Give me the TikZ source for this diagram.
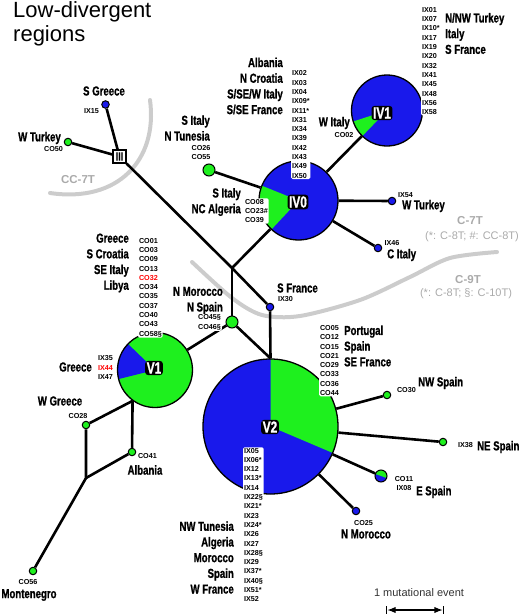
\documentclass[tikz,border=0pt]{standalone}
\usepackage{fontspec}
\setmainfont{Liberation Sans}
\newfontfamily\narrowfont[FakeStretch=0.74, BoldFeatures={FakeBold=1}]{Liberation Sans}
\usepackage{tikz}
\usetikzlibrary{arrows.meta,positioning}
\usepackage{xcolor}
\definecolor{hapblue}{RGB}{25,25,235}
\definecolor{hapgreen}{RGB}{30,240,30}
\definecolor{arcgray}{RGB}{204,204,204}
\definecolor{txtgray}{RGB}{170,170,170}
\newcommand{\regfont}{\narrowfont\bfseries\fontsize{13}{15.7}\selectfont}
\newcommand{\codefont}{\bfseries\fontsize{7.2}{9.3}\selectfont}

\begin{document}
\begin{tikzpicture}[
  x=1pt, y=-1pt,
  every node/.style={inner sep=0pt},
  region/.style={font=\regfont},
  codes/.style={font=\codefont, fill=white, rounded corners=1.5pt, inner sep=0.8pt},
  hap/.style={circle, draw, line width=1.3pt, inner sep=0pt, fill=hapblue},
  pie/.style n args={3}{path picture={\fill[#3] (path picture bounding box.center) -- ++(#1:90) arc[start angle=#1, end angle=#2, radius=90] -- cycle;}},
  haplab/.style={fill=black, text=white, rounded corners=3pt, inner sep=1.6pt, font=\narrowfont\bfseries\fontsize{16}{16}\selectfont},
  dot/.style={circle, draw, line width=1pt, minimum size=7.5pt, inner sep=0pt},
  bigdot/.style={dot, minimum size=12pt},
  conn/.style={line width=2.6pt},
  grayarc/.style={line width=4pt, arcgray, line cap=round},
  mut/.style={font=\bfseries\fontsize{11.5}{13.5}\selectfont, text=txtgray},
  mutnote/.style={font=\fontsize{11}{13}\selectfont, text=txtgray},
  >=Latex
]
\useasboundingbox (0,0) rectangle (520,614);

% Mutation arcs
\draw[grayarc] (150,100) .. controls (158,160) and (118,203) .. (50,193);
\draw[grayarc] plot[smooth] coordinates {(192,262) (232,298) (262,315) (300,316) (360,300) (410,277) (450,258) (497,252)};

% Haplotypes as pies
\node[hap, minimum size=79pt, pie={-227}{-158}{hapgreen}] (IV0) at (298.5,200.5) {};
\node[hap, minimum size=71pt, pie={-226}{-198}{hapgreen}] (IV1) at (387,110.5) {};
\node[hap, fill=hapgreen, minimum size=75pt, pie={-194}{-136}{hapblue}] (V1) at (155,370) {};
\node[hap, minimum size=135pt, pie={-90}{23}{hapgreen}] (V2) at (270.5,426.5) {};

% Single haplotypes
\node[dot, fill=hapblue] (ix15) at (105.5,104.5) {};
\node[dot, fill=hapgreen] (co50) at (68,142) {};
\node[bigdot, fill=hapgreen] (co26) at (209,170) {};
\node[dot, fill=hapblue] (ix54) at (392,201) {};
\node[dot, fill=hapblue] (ix46) at (378,248) {};
\node[dot, fill=hapblue] (ix30) at (270,307) {};
\node[bigdot, fill=hapgreen] (co45) at (232,322) {};
\node[dot, fill=hapgreen] (co28) at (86,425) {};
\node[dot, fill=hapgreen] (co41) at (132,452) {};
\node[dot, fill=hapgreen] (co56) at (33,571) {};
\node[dot, fill=hapgreen] (co30) at (387,395) {};
\node[dot, fill=hapgreen] (ix38) at (443,442) {};
\node[bigdot, fill=hapblue, pie={-160}{20}{hapgreen}] (co11) at (381,476) {};
\node[dot, fill=hapblue] (co25) at (356,511) {};
\node[draw, line width=1.2pt, fill=white, minimum size=13pt, inner sep=0.5pt, font=\narrowfont\bfseries\fontsize{12}{12}\selectfont] (III) at (119.5,156.5) {III};

\coordinate (j1) at (232,268);
\coordinate (j2) at (86,478);

% Connections
\draw[conn] (ix15) -- (III);
\draw[conn] (co50) -- (III);
\draw[conn] (III) -- (j1) -- (ix30);
\draw[conn] (j1) -- (IV0);
\draw[conn] (j1) -- (co45);
\draw[conn] (co26) -- (IV0);
\draw[conn] (IV0) -- (IV1);
\draw[conn] (IV0) -- (ix54);
\draw[conn] (IV0) -- (ix46);
\draw[conn] (co45) -- (V2.north);
\draw[conn] (ix30) -- (V2.north);
\draw[conn] (V1) -- (co45);
\draw[conn] (V1.234) -- (co28) -- (j2) -- (co56);
\draw[conn] (V1.234) -- (co41) -- (j2);
\draw[conn] (V2) -- (co30);
\draw[conn] (V2) -- (ix38);
\draw[conn] (V2) -- (co11);
\draw[conn] (V2) -- (co25);

% Haplotype names
\node[haplab] (lIV0) at (298,202) {IV0};
\node[haplab] (lIV1) at (382,113) {IV1};
\node[haplab] (lV1) at (154,368) {V1};
\node[haplab] (lV2) at (270,427) {V2};

% Title
\node[anchor=north west, align=left, font=\fontsize{22}{24.4}\selectfont] (title) at (13,1.3) {Low-divergent\\regions};

% Regions
\node[region] (rSGreece) at (104,91) {S Greece};
\node[region, anchor=east] (rWTurkey) at (61,138) {W Turkey};
\node[region, anchor=east, align=right] (rSItaly) at (210,128) {S Italy\\N Tunesia};
\node[region, anchor=east, align=right] (rIV0) at (283,86) {Albania\\N Croatia\\S/SE/W Italy\\S/SE France};
\node[region, anchor=west, align=left] (rIV1) at (445,33.5) {N/NW Turkey\\Italy\\S France};
\node[region, anchor=east] (rWItaly) at (350,123) {W Italy};
\node[region, anchor=east, align=right] (rIV0b) at (241,202) {S Italy\\NC Algeria};
\node[region, anchor=west] (rWTurkeyB) at (402,206) {W Turkey};
\node[region, anchor=west] (rCItaly) at (387,255) {C Italy};
\node[region, anchor=west] (rSFrance) at (277,288) {S France};
\node[region, anchor=east, align=right] (rV1) at (129,263) {Greece\\S Croatia\\SE Italy\\Libya};
\node[region, anchor=east, align=right] (rNMor) at (223,300.5) {N Morocco\\N Spain};
\node[region, anchor=east] (rGreece) at (92,367) {Greece};
\node[region] (rWGreece) at (60,401) {W Greece};
\node[region] (rAlbania) at (145,470) {Albania};
\node[region] (rMonte) at (29,595) {Montenegro};
\node[region, anchor=west, align=left] (rV2) at (344,346) {Portugal\\Spain\\SE France};
\node[region, anchor=west] (rNWSpain) at (418,383) {NW Spain};
\node[region, anchor=west] (rNESpain) at (477,447) {NE Spain};
\node[region, anchor=west] (rESpain) at (416,492) {E Spain};
\node[region] (rNMorB) at (366,534) {N Morocco};
\node[region, anchor=east, align=right] (rV2b) at (234,557.5) {NW Tunesia\\Algeria\\Morocco\\Spain\\W France};

% Sample codes
\node[codes, anchor=east] (cIX15) at (100,111) {IX15};
\node[codes] (cCO50) at (53.5,149) {CO50};
\node[codes, align=center] (cCO26) at (201,152.5) {CO26\\CO55};
\node[codes, anchor=west, align=left] (cIV0) at (291,124.5) {IX02\\IX03\\IX04\\IX09*\\IX11*\\IX31\\IX34\\IX39\\IX42\\IX43\\IX49\\IX50};
\node[codes, anchor=west, align=left] (cIV1) at (421,61) {IX01\\IX07\\IX10*\\IX17\\IX19\\IX20\\IX32\\IX41\\IX45\\IX48\\IX56\\IX58};
\node[codes] (cCO02) at (344,135) {CO02};
\node[codes, anchor=west, align=left] (cIV0b) at (244,211) {CO08\\CO23\#\\CO39};
\node[codes] (cIX54) at (405.5,195) {IX54};
\node[codes] (cIX46) at (392,243) {IX46};
\node[codes, anchor=west] (cIX30) at (277,299) {IX30};
\node[codes, anchor=west, align=left] (cV1) at (138,287.5) {CO01\\CO03\\CO09\\CO13\\\textcolor{red}{CO32}\\CO34\\CO35\\CO37\\CO40\\CO43\\CO58§};
\node[codes, anchor=east, align=left] (cCO45) at (222,322.5) {CO45§\\CO46§};
\node[codes, anchor=west, align=left] (cV1b) at (97,367.5) {IX35\\\textcolor{red}{IX44}\\IX47};
\node[codes] (cCO28) at (78,416) {CO28};
\node[codes, anchor=west] (cCO41) at (137,456) {CO41};
\node[codes] (cCO56) at (28,582) {CO56};
\node[codes, anchor=west, align=left] (cV2) at (319,360.5) {CO05\\CO12\\CO15\\CO21\\CO29\\CO33\\CO36\\CO44};
\node[codes, anchor=west] (cCO30) at (396,390) {CO30};
\node[codes, anchor=west] (cIX38) at (457,445) {IX38};
\node[codes, align=center] (cCO11) at (404,483.5) {CO11\\IX08};
\node[codes] (cCO25) at (363.5,523) {CO25};
\node[codes, anchor=west, align=left] (cV2b) at (243,525) {IX05\\IX06*\\IX12\\IX13*\\IX14\\IX22§\\IX21*\\IX23\\IX24*\\IX26\\IX27\\IX28§\\IX29\\IX37*\\IX40§\\IX51*\\IX52};

% Mutation labels
\node[mut] (cc7t) at (78,180) {CC-7T};
\node[mut] (c7t) at (470,221) {C-7T};
\node[mutnote] (c7tnote) at (472,237) {(*: C-8T; \#: CC-8T)};
\node[mut] (c9t) at (468,280) {C-9T};
\node[mutnote] (c9tnote) at (466,294) {(*: C-8T; §: C-10T)};

% Scale
\node[font=\fontsize{11}{13}\selectfont, text=black!80] (scale) at (419,593) {1 mutational event};
\coordinate (sbl) at (386,610);
\coordinate (sbr) at (444,610);
\draw[|<->|, line width=1.2pt] (sbl) -- (sbr);

\end{tikzpicture}
\end{document}
